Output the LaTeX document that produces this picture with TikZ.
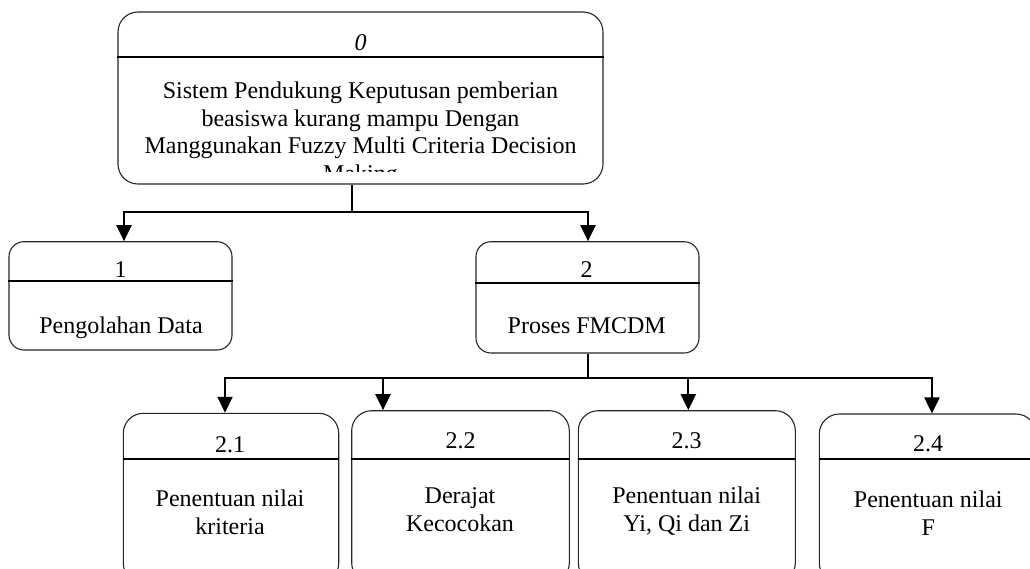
\documentclass[tikz,border=0pt]{standalone}
\usepackage{fontspec}
\setmainfont{Liberation Serif}
\usetikzlibrary{arrows.meta}
\begin{document}
\begin{tikzpicture}[x=1pt,y=-1pt,
  pbox/.style={draw=black!85, line width=1.1pt, rounded corners=#1, inner sep=0pt},
  pbox/.default=20pt,
  divline/.style={line width=1.8pt},
  txt/.style={font=\fontsize{24}{27.5}\selectfont, inner sep=0pt, align=center},
  conn/.style={line width=1.8pt},
  arr/.style={line width=2.2pt, -{Triangle[width=15pt,length=16pt]}},
]
\path[use as bounding box, clip] (0,0) rectangle (1030,568);
\fill[white] (0,0) rectangle (1030,568);

% boxes
\node[pbox=20pt, minimum width=485pt, minimum height=172pt] (top) at (360.5,98) {};
\node[pbox=15pt, minimum width=223pt, minimum height=108.3pt] (b1) at (120.5,295.85) {};
\node[pbox=15pt, minimum width=223pt, minimum height=111.3pt] (b2) at (587.5,297.35) {};
\node[pbox, minimum width=215.4pt, minimum height=170pt] (b21) at (231,498.3) {};
\node[pbox, minimum width=217.6pt, minimum height=172.3pt] (b22) at (460.5,496.85) {};
\node[pbox, minimum width=217pt, minimum height=172.3pt] (b23) at (686.8,496.85) {};
\node[pbox, minimum width=216.7pt, minimum height=169pt] (b24) at (927.65,498.5) {};

% dividers
\draw[divline] (top.west |- 0,57) -- (top.east |- 0,57);
\draw[divline] (b1.west |- 0,281) -- (b1.east |- 0,281);
\draw[divline] (b2.west |- 0,283) -- (b2.east |- 0,283);
\draw[divline] (b21.west |- 0,459) -- (b21.east |- 0,459);
\draw[divline] (b22.west |- 0,459) -- (b22.east |- 0,459);
\draw[divline] (b23.west |- 0,459) -- (b23.east |- 0,459);
\draw[divline] (b24.west |- 0,459) -- (b24.east |- 0,459);

% texts
\node[txt, anchor=base] (n0) at (360.5,50) {\textit{0}};
\begin{scope}
\clip (118,58) rectangle (603,171);
\node[txt, anchor=base] (l0) at (360.5,181) {Sistem Pendukung Keputusan pemberian\\beasiswa kurang mampu Dengan\\Manggunakan Fuzzy Multi Criteria Decision\\Making};
\end{scope}
\node[txt, anchor=base] (n1) at (120.7,277) {1};
\node[txt, anchor=base] (l1) at (121,333) {Pengolahan Data};
\node[txt, anchor=base] (n2) at (586.7,277) {2};
\node[txt, anchor=base] (l2) at (586.7,333) {Proses FMCDM};
\node[txt, anchor=base] (n21) at (230,452) {2.1};
\node[txt, anchor=base] (l21) at (230,534) {Penentuan nilai\\kriteria};
\node[txt, anchor=base] (n22) at (460.7,448) {2.2};
\node[txt, anchor=base] (l22) at (460,531) {Derajat\\Kecocokan};
\node[txt, anchor=base] (n23) at (686.7,448) {2.3};
\node[txt, anchor=base] (l23) at (686.7,531) {Penentuan nilai\\Yi, Qi dan Zi};
\node[txt, anchor=base] (n24) at (928,451.7) {2.4};
\node[txt, anchor=base] (l24) at (928.3,535) {Penentuan nilai\\F};

% connectors
\coordinate (j1) at (352,212);
\coordinate (j2) at (588,378);
\draw[conn] (top.south -| j1) -- (j1);
\draw[arr] (j1) -| ([xshift=3.5pt]b1.north);
\draw[arr] (j1) -| ([xshift=0.5pt]b2.north);
\draw[conn] (b2.south -| j2) -- (j2);
\draw[arr] (j2) -| ([xshift=-6pt]b21.north);
\draw[arr] (j2) -| ([xshift=-77.5pt]b22.north);
\draw[arr] (j2) -| ([xshift=1.5pt]b23.north);
\draw[arr] (j2) -| ([xshift=4.3pt]b24.north);
\end{tikzpicture}
\end{document}
